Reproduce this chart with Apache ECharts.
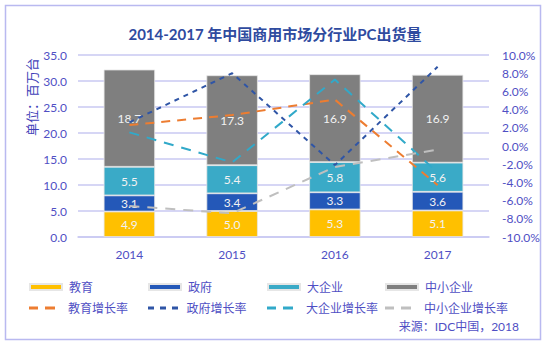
<!DOCTYPE html>
<html>
<head>
<meta charset="utf-8">
<script src="https://cdn.jsdelivr.net/npm/echarts@6/dist/echarts.min.js"></script>
<style>
html,body{margin:0;padding:0;background:#fff;}
#c{width:550px;height:345px;}
</style>
</head>
<body>
<div id="c"></div>
<script>
var categories = ['2014', '2015', '2016', '2017'];
var eduShip = [4.9, 5.0, 5.3, 5.1];
var govShip = [3.1, 3.4, 3.3, 3.6];
var largeShip = [5.5, 5.4, 5.8, 5.6];
var smeShip = [18.7, 17.3, 16.9, 16.9];
var eduGrowth = [2.3, 3.4, 5.1, -4.3];
var govGrowth = [2.6, 8.0, -2.1, 8.7];
var largeGrowth = [1.5, -1.8, 7.3, -2.9];
var smeGrowth = [-6.6, -7.4, -2.3, -0.4];

var FONT = "Lato, 'Noto Sans CJK SC', sans-serif";
var TXT = '#4f4fc4';
var GRID = '#c9c9f2';
var DASH2 = 'path://M0,0H9V3H0Z M16,0H26V3H16Z';
var DASH3 = 'path://M0,0H6V3H0Z M12,0H18V3H12Z M24,0H30V3H24Z';

var chart = echarts.init(document.getElementById('c'), null, {renderer: 'svg'});

function barSeries(name, data, color) {
  return {
    name: name, type: 'bar', stack: 'ship', data: data, barWidth: '50%',
    itemStyle: {color: color, borderColor: '#e6e6e6', borderWidth: 0.8},
    label: {show: true, position: 'inside', color: '#f2f2f2', fontSize: 12, fontFamily: FONT,
      formatter: function (p) { return p.value.toFixed(1); }}
  };
}
function lineSeries(name, data, color, dash) {
  return {
    name: name, type: 'line', yAxisIndex: 1, data: data, symbol: 'none', z: 5,
    lineStyle: {color: color, width: 2, type: dash},
    itemStyle: {color: color}
  };
}
function legendItem(name, left, top, icon, w, h, pad) {
  return {
    data: [{name: name, icon: icon}], left: left, top: top, itemWidth: w, itemHeight: h,
    itemGap: 0,
    textStyle: {color: TXT, fontSize: 12, fontFamily: FONT, padding: [0, 0, 0, pad]},
    selectedMode: false
  };
}

var option = {
  animation: false,
  backgroundColor: '#fff',
  title: {
    text: '2014-2017 年中国商用市场分行业PC出货量', left: 'center', top: 21,
    textStyle: {color: '#2f4b9f', fontSize: 15, fontWeight: 'bold', fontFamily: FONT}
  },
  legend: [
    legendItem('教育', 24, 276, 'rect', 32, 6, 2),
    legendItem('政府', 143, 276, 'rect', 32, 6, 2),
    legendItem('大企业', 262, 276, 'rect', 32, 6, 2),
    legendItem('中小企业', 380, 276, 'rect', 32, 6, 2),
    legendItem('教育增长率', 24, 297, DASH2, 26, 3, 8),
    legendItem('政府增长率', 143, 297, DASH3, 31, 3, 3),
    legendItem('大企业增长率', 262, 297, DASH2, 26, 3, 8),
    legendItem('中小企业增长率', 380, 297, DASH2, 26, 3, 8)
  ],
  grid: {left: 78, right: 61, top: 55, bottom: 108},
  xAxis: {
    type: 'category', data: categories,
    axisLine: {lineStyle: {color: GRID, width: 1.5}},
    axisTick: {show: false},
    axisLabel: {color: TXT, fontSize: 12, fontFamily: FONT, margin: 11}
  },
  yAxis: [
    {
      type: 'value', min: 0, max: 35, interval: 5,
      axisLine: {show: false}, axisTick: {show: false},
      splitLine: {lineStyle: {color: GRID, width: 1.5}},
      axisLabel: {color: TXT, fontSize: 12, fontFamily: FONT, margin: 11,
        formatter: function (v) { return v.toFixed(1); }}
    },
    {
      type: 'value', min: -10, max: 10, interval: 2, position: 'right',
      axisLine: {show: false}, axisTick: {show: false}, splitLine: {show: false},
      axisLabel: {color: TXT, fontSize: 12, fontFamily: FONT, margin: 13,
        formatter: function (v) { return v.toFixed(1) + '%'; }}
    }
  ],
  graphic: [
    {type: 'rect', shape: {x: 5.5, y: 5.5, width: 535, height: 334},
     style: {fill: 'none', stroke: '#b9b9f0', lineWidth: 1.5}, silent: true},
    {type: 'text', x: 32, y: 97, rotation: Math.PI / 2,
     style: {text: '单位：百万台', fill: '#3f3fb8', fontSize: 13, fontFamily: FONT,
       align: 'center', verticalAlign: 'middle'}},
    {type: 'text', right: 31, top: 320,
     style: {text: '来源：IDC中国，2018', fill: TXT, fontSize: 12, fontFamily: FONT}}
  ],
  series: [
    barSeries('教育', eduShip, '#ffc000'),
    barSeries('政府', govShip, '#2458b8'),
    barSeries('大企业', largeShip, '#3aaac7'),
    barSeries('中小企业', smeShip, '#7f7f7f'),
    lineSeries('教育增长率', eduGrowth, '#ed7d31', [9, 7]),
    lineSeries('政府增长率', govGrowth, '#2f55a6', [5, 5]),
    lineSeries('大企业增长率', largeGrowth, '#31a9c9', [10, 8]),
    lineSeries('中小企业增长率', smeGrowth, '#bfbfbf', [10, 8])
  ]
};
chart.setOption(option);
</script>
</body>
</html>
